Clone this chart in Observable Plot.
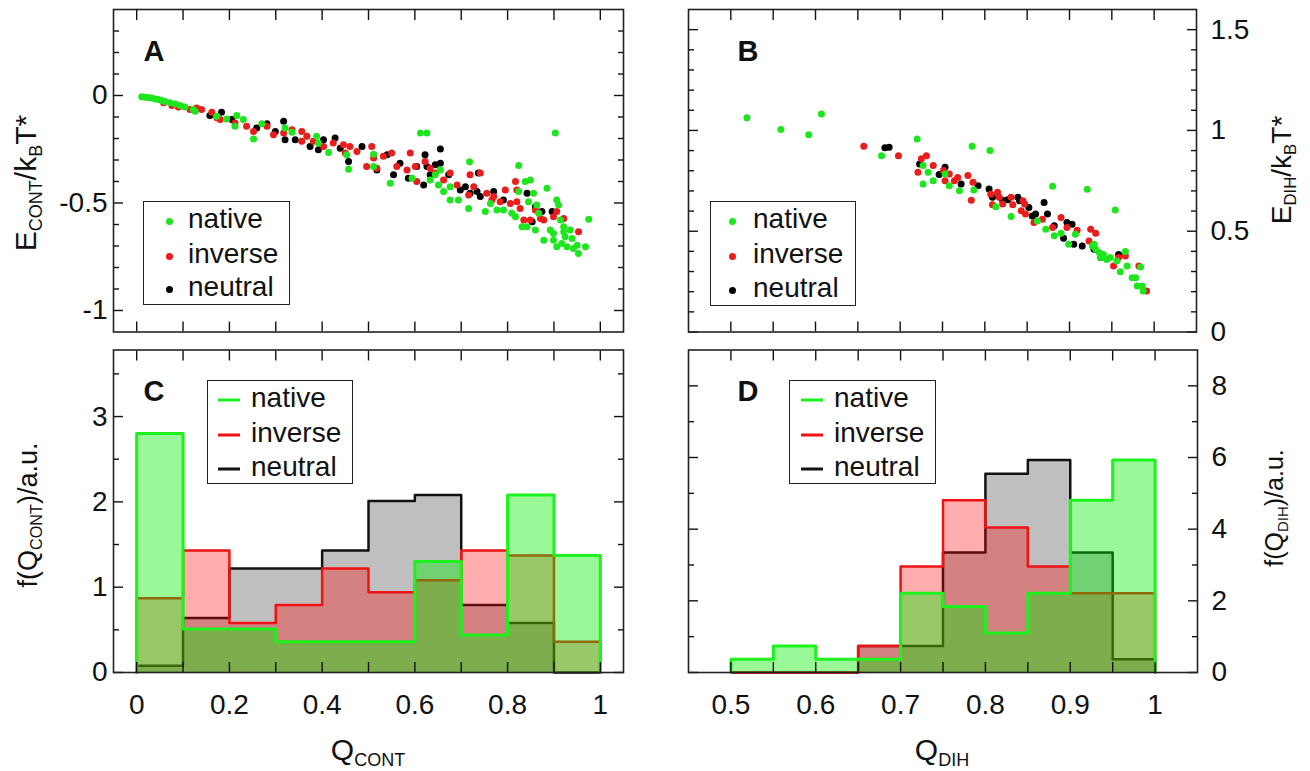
<!DOCTYPE html>
<html><head><meta charset="utf-8">
<script src="https://cdn.jsdelivr.net/npm/d3@7"></script>
<script src="https://cdn.jsdelivr.net/npm/@observablehq/plot@0.6"></script>
<style>
html,body{margin:0;padding:0;background:#fff;}
#fig{position:relative;width:1310px;height:771px;overflow:hidden;font-family:"Liberation Sans",Arial,Helvetica,sans-serif;color:#111;}
#fig svg{position:absolute;left:0;top:0;}
.lab{position:absolute;white-space:nowrap;transform:translate(-50%,-50%) rotate(-90deg);line-height:1;}
.labh{position:absolute;white-space:nowrap;transform:translate(-50%,-50%);line-height:1;}
.lab sub,.labh sub{font-size:0.6em;vertical-align:-0.3em;}
.leg{position:absolute;border:1.5px solid #222;background:#fff;box-sizing:border-box;}
.leg .t{position:absolute;font-size:28px;line-height:1;white-space:nowrap;transform:translateY(-50%);margin-top:-2px;}
.leg .d{position:absolute;border-radius:50%;}
.leg .s{position:absolute;height:3px;transform:translateY(-50%);}
</style>
</head><body>
<div id="fig"></div>
<script>
// ---------- data ----------
const seriesNames = ["native", "inverse", "neutral"];
// Panel A: [Q_CONT, E_CONT/kBT*]
const aNative = [[0.011,-0.006],[0.018,-0.008],[0.025,-0.009],[0.032,-0.012],[0.040,-0.016],[0.047,-0.019],[0.054,-0.023],[0.061,-0.028],[0.072,-0.034],[0.083,-0.040],[0.094,-0.047],[0.104,-0.053],[0.122,-0.065],[0.126,-0.073],[0.173,-0.097],[0.194,-0.109],[0.216,-0.093],[0.212,-0.143],[0.230,-0.112],[0.252,-0.202],[0.270,-0.131],[0.320,-0.151],[0.335,-0.171],[0.388,-0.190],[0.392,-0.221],[0.414,-0.265],[0.453,-0.276],[0.457,-0.343],[0.511,-0.273],[0.511,-0.330],[0.547,-0.408],[0.594,-0.385],[0.612,-0.174],[0.626,-0.174],[0.633,-0.393],[0.644,-0.369],[0.651,-0.416],[0.655,-0.346],[0.662,-0.447],[0.676,-0.486],[0.676,-0.424],[0.694,-0.486],[0.716,-0.525],[0.718,-0.308],[0.752,-0.540],[0.763,-0.502],[0.777,-0.533],[0.791,-0.533],[0.809,-0.548],[0.817,-0.564],[0.824,-0.326],[0.824,-0.447],[0.831,-0.611],[0.842,-0.611],[0.838,-0.400],[0.845,-0.494],[0.849,-0.393],[0.856,-0.455],[0.860,-0.626],[0.863,-0.509],[0.867,-0.548],[0.878,-0.673],[0.885,-0.431],[0.892,-0.626],[0.899,-0.642],[0.903,-0.174],[0.906,-0.486],[0.910,-0.509],[0.914,-0.579],[0.917,-0.688],[0.921,-0.611],[0.924,-0.657],[0.928,-0.704],[0.935,-0.626],[0.939,-0.665],[0.942,-0.712],[0.950,-0.696],[0.953,-0.735],[0.968,-0.704],[0.975,-0.576],[0.899,-0.673],[0.906,-0.704],[0.921,-0.634]];
const aInverse = [[0.058,-0.034],[0.076,-0.047],[0.090,-0.053],[0.115,-0.065],[0.129,-0.058],[0.140,-0.065],[0.162,-0.078],[0.173,-0.104],[0.180,-0.112],[0.212,-0.128],[0.237,-0.143],[0.252,-0.167],[0.281,-0.143],[0.295,-0.182],[0.317,-0.174],[0.335,-0.159],[0.356,-0.167],[0.356,-0.213],[0.367,-0.190],[0.381,-0.213],[0.403,-0.237],[0.424,-0.221],[0.446,-0.229],[0.450,-0.268],[0.460,-0.237],[0.475,-0.260],[0.496,-0.330],[0.507,-0.237],[0.511,-0.291],[0.518,-0.338],[0.532,-0.283],[0.550,-0.268],[0.561,-0.330],[0.583,-0.346],[0.590,-0.268],[0.601,-0.330],[0.604,-0.400],[0.622,-0.307],[0.633,-0.338],[0.644,-0.361],[0.662,-0.393],[0.676,-0.361],[0.691,-0.416],[0.716,-0.463],[0.719,-0.369],[0.727,-0.424],[0.741,-0.361],[0.755,-0.455],[0.766,-0.486],[0.770,-0.470],[0.784,-0.494],[0.795,-0.439],[0.806,-0.502],[0.817,-0.400],[0.820,-0.494],[0.827,-0.525],[0.835,-0.579],[0.849,-0.579],[0.860,-0.533],[0.871,-0.572],[0.878,-0.579],[0.899,-0.564],[0.906,-0.540],[0.921,-0.572],[0.953,-0.634],[0.820,-0.439]];
const aNeutral = [[0.158,-0.093],[0.183,-0.078],[0.205,-0.112],[0.259,-0.151],[0.281,-0.131],[0.299,-0.167],[0.317,-0.120],[0.320,-0.206],[0.342,-0.206],[0.374,-0.237],[0.392,-0.252],[0.403,-0.206],[0.428,-0.198],[0.439,-0.245],[0.457,-0.307],[0.486,-0.237],[0.518,-0.346],[0.540,-0.276],[0.554,-0.369],[0.568,-0.315],[0.586,-0.385],[0.604,-0.330],[0.622,-0.276],[0.626,-0.330],[0.644,-0.322],[0.655,-0.249],[0.655,-0.315],[0.673,-0.369],[0.698,-0.439],[0.709,-0.424],[0.719,-0.455],[0.734,-0.447],[0.741,-0.470],[0.770,-0.447],[0.791,-0.486],[0.842,-0.455],[0.860,-0.517],[0.874,-0.540],[0.896,-0.540],[0.853,-0.587],[0.737,-0.361],[0.619,-0.416],[0.633,-0.369]];
// Panel B: [Q_DIH, E_DIH/kBT*]
const bNative = [[0.519,1.063],[0.559,1.005],[0.592,0.978],[0.607,1.081],[0.678,0.875],[0.720,0.958],[0.727,0.826],[0.727,0.734],[0.733,0.792],[0.739,0.751],[0.753,0.784],[0.758,0.726],[0.770,0.701],[0.785,0.922],[0.787,0.704],[0.806,0.900],[0.813,0.621],[0.831,0.573],[0.862,0.551],[0.872,0.510],[0.880,0.723],[0.882,0.477],[0.890,0.490],[0.899,0.435],[0.907,0.485],[0.921,0.708],[0.927,0.427],[0.931,0.410],[0.935,0.394],[0.940,0.385],[0.948,0.369],[0.954,0.605],[0.956,0.352],[0.960,0.299],[0.966,0.399],[0.968,0.327],[0.974,0.269],[0.978,0.269],[0.980,0.228],[0.984,0.322],[0.986,0.228],[0.987,0.203],[0.929,0.435],[0.937,0.369],[0.944,0.360]];
const bInverse = [[0.657,0.922],[0.698,0.875],[0.721,0.792],[0.725,0.859],[0.731,0.875],[0.739,0.826],[0.751,0.801],[0.753,0.751],[0.758,0.784],[0.764,0.751],[0.768,0.767],[0.780,0.776],[0.784,0.654],[0.786,0.743],[0.807,0.684],[0.809,0.631],[0.815,0.693],[0.817,0.668],[0.821,0.635],[0.833,0.631],[0.843,0.601],[0.847,0.635],[0.848,0.585],[0.858,0.543],[0.868,0.560],[0.880,0.518],[0.890,0.568],[0.897,0.518],[0.909,0.505],[0.925,0.510],[0.931,0.490],[0.923,0.452],[0.952,0.327],[0.958,0.369],[0.966,0.377],[0.982,0.327],[0.991,0.203],[0.845,0.651],[0.831,0.668]];
const bNeutral = [[0.682,0.914],[0.687,0.917],[0.723,0.834],[0.746,0.781],[0.753,0.817],[0.772,0.734],[0.792,0.726],[0.805,0.709],[0.809,0.668],[0.821,0.654],[0.827,0.656],[0.839,0.668],[0.841,0.651],[0.852,0.618],[0.856,0.576],[0.860,0.585],[0.870,0.643],[0.874,0.585],[0.882,0.527],[0.893,0.465],[0.897,0.543],[0.903,0.535],[0.905,0.435],[0.915,0.427],[0.929,0.410],[0.937,0.369],[0.958,0.385]];
// Panel C: histogram of Q_CONT
const cBinEdges = [0,0.1,0.2,0.3,0.4,0.5,0.6,0.7,0.8,0.9,1.0];
const cNative  = [2.80,0.51,0.51,0.36,0.36,0.36,1.30,0.44,2.08,1.37];
const cInverse = [0.87,1.43,0.58,0.79,1.22,0.94,1.08,1.43,1.37,0.36];
const cNeutral = [0.08,0.64,1.22,1.22,1.43,2.01,2.08,0.79,0.58,0];
// Panel D: histogram of Q_DIH
const dBinEdges = [0.5,0.55,0.6,0.65,0.7,0.75,0.8,0.85,0.9,0.95,1.0];
const dNative  = [0.37,0.74,0.37,0.37,2.21,1.84,1.10,2.21,4.81,5.93];
const dInverse = [0,0,0,0.74,2.96,4.81,4.05,2.96,2.21,2.21];
const dNeutral = [0,0,0,0.74,0.74,3.35,5.55,5.93,3.35,0.37];
// tick labels
const qContTicks = [0,0.2,0.4,0.6,0.8,1];
const qDihTicks = [0.5,0.6,0.7,0.8,0.9,1];
const eContTicks = [-1,-0.5,0];
const eDihTicks = [0,0.5,1,1.5];
const fContTicks = [0,1,2,3];
const fDihTicks = [0,2,4,6,8];

// ---------- styling ----------
const FONT = '"Liberation Sans", Arial, Helvetica, sans-serif';
const dotColor = {native: "#1ee61e", inverse: "#ea1c1c", neutral: "#000000"};
const lineColor = {native: "#1cf21c", inverse: "#f01212", neutral: "#111111"};
const fillColor = {native: "#00f000", inverse: "#ff0000", neutral: "#000000"};
const fillOp = {native: 0.4, inverse: 0.32, neutral: 0.25};
const lineW = {native: 3, inverse: 2.5, neutral: 2.5};
const DOT_R = 3.5;
const W = 1310, H = 771;
const fig = document.getElementById("fig");

const step = (a, b, s) => d3.range(Math.round((b - a) / s) + 1).map(i => +(a + i * s).toFixed(4));
const fmt = d => String(d);

function ticksX(values, size) {
  return [
    Plot.axisX(values, {anchor: "bottom", tickSize: size, dy: -size, fill: "none", label: null, strokeWidth: 1.4}),
    Plot.axisX(values, {anchor: "top", tickSize: size, dy: size, fill: "none", label: null, strokeWidth: 1.4})
  ];
}
function ticksY(values, size) {
  return [
    Plot.axisY(values, {anchor: "left", tickSize: size, dx: size, fill: "none", label: null, strokeWidth: 1.4}),
    Plot.axisY(values, {anchor: "right", tickSize: size, dx: -size, fill: "none", label: null, strokeWidth: 1.4})
  ];
}
function labelsY(values, anchor, pad) {
  return Plot.axisY(values, {anchor, tickSize: 0, tickPadding: pad, tickFormat: fmt, label: null, fontSize: 28, fill: "#111"});
}
function labelsX(values, pad) {
  return Plot.axisX(values, {anchor: "bottom", tickSize: 0, tickPadding: pad, tickFormat: fmt, label: null, fontSize: 28, fill: "#111"});
}
function letter(ch, dx) {
  return Plot.text([ch], {frameAnchor: "top-left", text: d => d, dx, dy: 42, textAnchor: "start", lineAnchor: "middle", fontWeight: "bold", fontSize: 29, fill: "#111"});
}
function panel(frame, xDomain, yDomain, marks) {
  const svg = Plot.plot({
    width: W, height: H,
    marginLeft: frame.left, marginRight: W - frame.right,
    marginTop: frame.top, marginBottom: H - frame.bottom,
    x: {domain: xDomain}, y: {domain: yDomain},
    style: {background: "transparent", fontFamily: FONT, fontSize: "28px", color: "#111", overflow: "visible"},
    marks: [...marks, Plot.frame({stroke: "#222", strokeWidth: 1.6})]
  });
  fig.appendChild(svg);
}
const toPts = (arr, s) => arr.map(([x, y]) => ({x, y, s}));
function steps(edges, vals) {
  const pts = [{x: edges[0], y: 0}];
  vals.forEach((v, i) => pts.push({x: edges[i], y: v}));
  pts.push({x: edges[edges.length - 1], y: 0});
  return pts;
}
function histMarks(edges, series) {
  const out = [];
  for (const [name, vals] of series) {
    const pts = steps(edges, vals);
    out.push(Plot.areaY(pts, {x: "x", y: "y", curve: "step-after", fill: fillColor[name], fillOpacity: fillOp[name]}));
    out.push(Plot.lineY(pts, {x: "x", y: "y", curve: "step-after", stroke: lineColor[name], strokeWidth: lineW[name]}));
  }
  return out;
}

// ---------- panel A ----------
panel({left: 113, right: 623, top: 9, bottom: 331.5}, [-0.05, 1.05], [-1.1, 0.4], [
  ...ticksX(step(0, 1, 0.1), 10),
  ...ticksY(step(-1, 0.3, 0.1).filter(v => !eContTicks.includes(v)), 6),
  ...ticksY(eContTicks, 10),
  labelsY(eContTicks, "left", 6),
  Plot.dot(toPts(aNeutral, "neutral"), {x: "x", y: "y", r: DOT_R, fill: dotColor.neutral}),
  Plot.dot(toPts(aInverse, "inverse"), {x: "x", y: "y", r: DOT_R, fill: dotColor.inverse}),
  Plot.dot(toPts(aNative, "native"), {x: "x", y: "y", r: DOT_R, fill: dotColor.native}),
  letter("A", 30)
]);
// ---------- panel B ----------
panel({left: 688, right: 1196, top: 9, bottom: 331.5}, [0.45, 1.05], [0, 1.6], [
  ...ticksX(step(0.5, 1, 0.05), 10),
  ...ticksY(step(0.1, 1.5, 0.1).filter(v => !eDihTicks.includes(v)), 6),
  ...ticksY(eDihTicks, 10),
  labelsY(eDihTicks, "right", 14),
  Plot.dot(toPts(bNeutral, "neutral"), {x: "x", y: "y", r: DOT_R, fill: dotColor.neutral}),
  Plot.dot(toPts(bInverse, "inverse"), {x: "x", y: "y", r: DOT_R, fill: dotColor.inverse}),
  Plot.dot(toPts(bNative, "native"), {x: "x", y: "y", r: DOT_R, fill: dotColor.native}),
  letter("B", 49)
]);
// ---------- panel C ----------
panel({left: 113, right: 623, top: 349.5, bottom: 672}, [-0.05, 1.05], [0, 3.78], [
  ...histMarks(cBinEdges, [["neutral", cNeutral], ["inverse", cInverse], ["native", cNative]]),
  ...ticksX(step(0, 1, 0.1), 10),
  ...ticksY(step(0.5, 3.5, 1), 6),
  ...ticksY(fContTicks, 10),
  labelsY(fContTicks, "left", 6),
  labelsX(qContTicks, 22),
  letter("C", 30)
]);
// ---------- panel D ----------
panel({left: 688, right: 1197, top: 349.5, bottom: 672}, [0.45, 1.05], [0, 9], [
  ...histMarks(dBinEdges, [["neutral", dNeutral], ["inverse", dInverse], ["native", dNative]]),
  ...ticksX(step(0.5, 1, 0.05), 10),
  ...ticksY(step(1, 7, 2), 6),
  ...ticksY(fDihTicks, 10),
  labelsY(fDihTicks, "right", 14),
  labelsX(qDihTicks, 22),
  letter("D", 49)
]);

// ---------- axis titles ----------
function addLabel(html, x, y, size, rotated) {
  const el = document.createElement("div");
  el.className = rotated ? "lab" : "labh";
  el.style.left = x + "px"; el.style.top = y + "px"; el.style.fontSize = size + "px";
  el.innerHTML = html;
  fig.appendChild(el);
}
addLabel("E<sub>CONT</sub>/k<sub>B</sub>T*", 28, 183, 30, true);
addLabel("f(Q<sub>CONT</sub>)/a.u.", 30, 515, 27, true);
addLabel("E<sub>DIH</sub>/k<sub>B</sub>T*", 1284, 170, 28, true);
addLabel("f(Q<sub>DIH</sub>)/a.u.", 1276, 508, 25, true);
addLabel("Q<sub>CONT</sub>", 368, 752, 30, false);
addLabel("Q<sub>DIH</sub>", 942, 752, 30, false);

// ---------- legends ----------
function addLegend(box, kind) {
  const el = document.createElement("div");
  el.className = "leg";
  Object.assign(el.style, {left: box.x + "px", top: box.y + "px", width: box.w + "px", height: box.h + "px"});
  seriesNames.forEach((name, i) => {
    const cy = box.rows[i];
    if (kind === "dot") {
      const d = document.createElement("div");
      d.className = "d";
      Object.assign(d.style, {left: (box.mx - 3.5) + "px", top: (cy - 3.5) + "px", width: "7px", height: "7px", background: dotColor[name]});
      el.appendChild(d);
    } else {
      const s = document.createElement("div");
      s.className = "s";
      Object.assign(s.style, {left: box.mx + "px", top: cy + "px", width: box.mw + "px", background: lineColor[name]});
      el.appendChild(s);
    }
    const t = document.createElement("div");
    t.className = "t";
    t.style.left = box.tx + "px"; t.style.top = cy + "px";
    t.textContent = name;
    el.appendChild(t);
  });
  fig.appendChild(el);
}
addLegend({x: 143, y: 201, w: 147, h: 104, rows: [19, 54, 87], mx: 25, tx: 44}, "dot");
addLegend({x: 710, y: 201, w: 146, h: 105, rows: [19, 54, 88], mx: 21, tx: 42}, "dot");
addLegend({x: 207, y: 380, w: 146, h: 104, rows: [19, 54, 88], mx: 10, mw: 22, tx: 43}, "line");
addLegend({x: 789, y: 380, w: 147, h: 104, rows: [19, 54, 88], mx: 11, mw: 22, tx: 44}, "line");
</script>
</body></html>
